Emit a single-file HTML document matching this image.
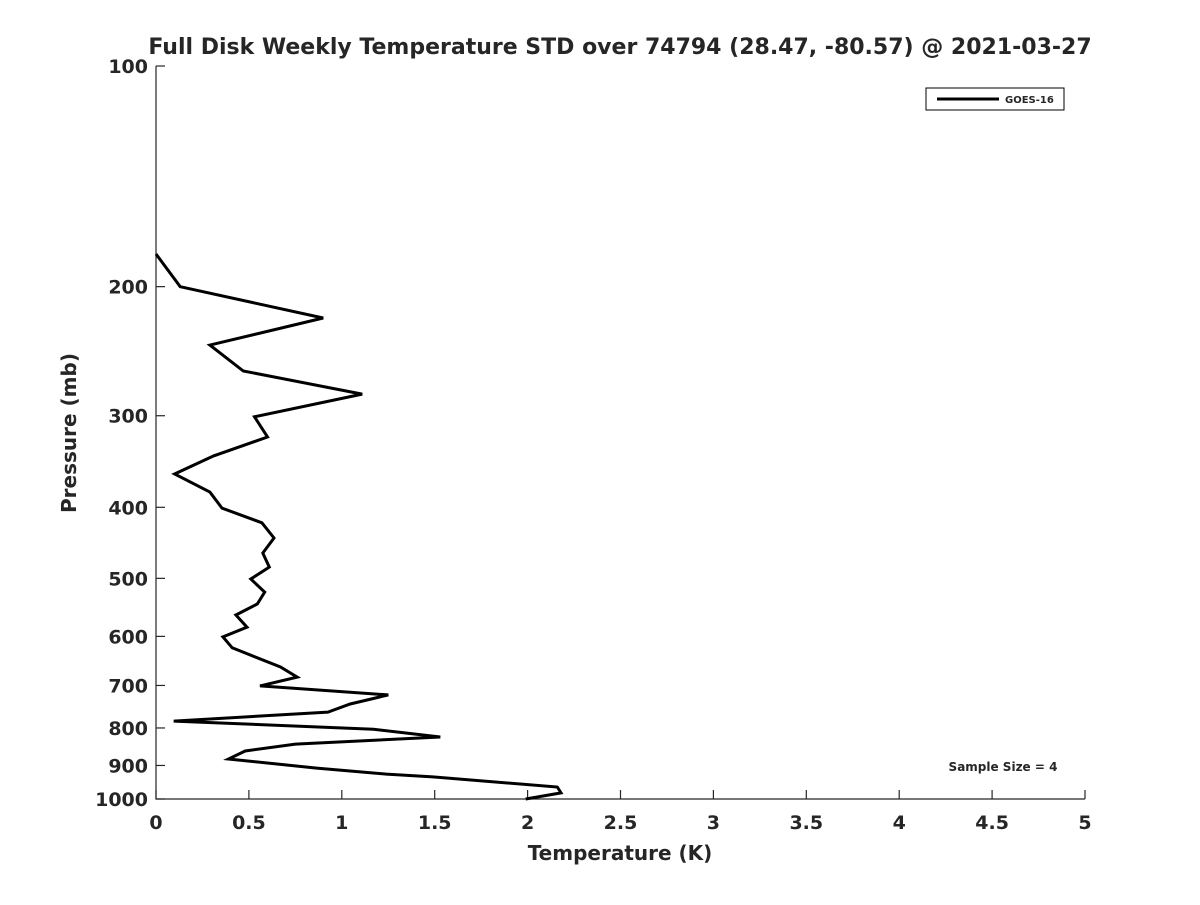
<!DOCTYPE html>
<html><head><meta charset="utf-8"><style>
body{margin:0;background:#fff;}
svg text{font-family:"DejaVu Sans","Liberation Sans",sans-serif;font-weight:bold;fill:#262626;}
</style></head><body>
<svg width="1200" height="900" viewBox="0 0 1200 900">
<rect width="1200" height="900" fill="#fff"/>
<text x="620" y="54" font-size="22" text-anchor="middle" fill="#000">Full Disk Weekly Temperature STD over 74794 (28.47, -80.57) @ 2021-03-27</text>
<g id="axes"></g>
<text x="620" y="860" font-size="20" text-anchor="middle">Temperature (K)</text>
<text transform="translate(76,433) rotate(-90)" font-size="20" text-anchor="middle">Pressure (mb)</text>
<g>
<rect x="926" y="88" width="138" height="22" fill="#fff" stroke="#000" stroke-width="1"/>
<line x1="937" y1="99" x2="999" y2="99" stroke="#000" stroke-width="3"/>
<text x="1005" y="103" font-size="10" fill="#000">GOES-16</text>
</g>
<text x="1003" y="771" font-size="12" text-anchor="middle" fill="#000">Sample Size = 4</text>
</svg>
<script>
const xTicks=[0,0.5,1,1.5,2,2.5,3,3.5,4,4.5,5];
const xTickLabels=["0","0.5","1","1.5","2","2.5","3","3.5","4","4.5","5"];
const yTicks=[100,200,300,400,500,600,700,800,900,1000];
const yTickLabels=["100","200","300","400","500","600","700","800","900","1000"];
const temps=[0,0.13,0.90,0.29,0.47,1.11,0.53,0.60,0.31,0.10,0.29,0.355,0.57,0.635,0.575,0.61,0.51,0.585,0.545,0.43,0.49,0.36,0.41,0.67,0.76,0.56,1.25,1.045,0.925,0.095,1.17,1.53,0.75,0.48,0.39,0.865,1.24,1.49,2.16,2.18,1.99];
const pressures=[180.5,200,220.7,240.3,260.7,280.3,301,320.7,340.4,360.3,381.3,401,420,440.5,461.8,482.6,501,522,542,561,583,601,622,660.6,681.8,701,721,742,761,783,803,823,841.5,860,882,907.6,924.7,933,963,981,1000];
const X0=156,X1=1085,Y0=66,Y1=799;
const xs=v=>X0+(v-0)/(5-0)*(X1-X0);
const ys=p=>Y0+Math.log10(p/100)*(Y1-Y0);
const NS="http://www.w3.org/2000/svg";
const svg=document.querySelector('svg');
const g=document.getElementById('axes');
function mk(t,a){const e=document.createElementNS(NS,t);for(const k in a)e.setAttribute(k,a[k]);return e;}
const ax=mk('path',{d:`M${X0},${Y0}V${Y1}H${X1}`,fill:'none',stroke:'#262626','stroke-width':1.2});


g.appendChild(ax);
xTicks.forEach((v,i)=>{
 const x=xs(v);
 const l=mk('line',{x1:x,y1:Y1,x2:x,y2:Y1-9,stroke:'#262626','stroke-width':1.2});
 
 
 g.appendChild(l);
 const t=mk('text',{x:x,y:Y1+30,'font-size':19,'text-anchor':'middle'});
 t.textContent=xTickLabels[i];
 
 
 g.appendChild(t);
});
yTicks.forEach((v,i)=>{
 const y=ys(v);
 const l=mk('line',{x1:X0,y1:y,x2:X0+9,y2:y,stroke:'#262626','stroke-width':1.2});
 
 
 g.appendChild(l);
 const t=mk('text',{x:148,y:y+7,'font-size':19,'text-anchor':'end'});
 t.textContent=yTickLabels[i];
 
 
 g.appendChild(t);
});
const pts=temps.map((v,i)=>xs(v).toFixed(1)+','+ys(pressures[i]).toFixed(1)).join(' ');
const line=mk('polyline',{points:pts,fill:'none',stroke:'#000','stroke-width':3,'stroke-linejoin':'miter'});


svg.appendChild(line);
</script>
</body></html>
